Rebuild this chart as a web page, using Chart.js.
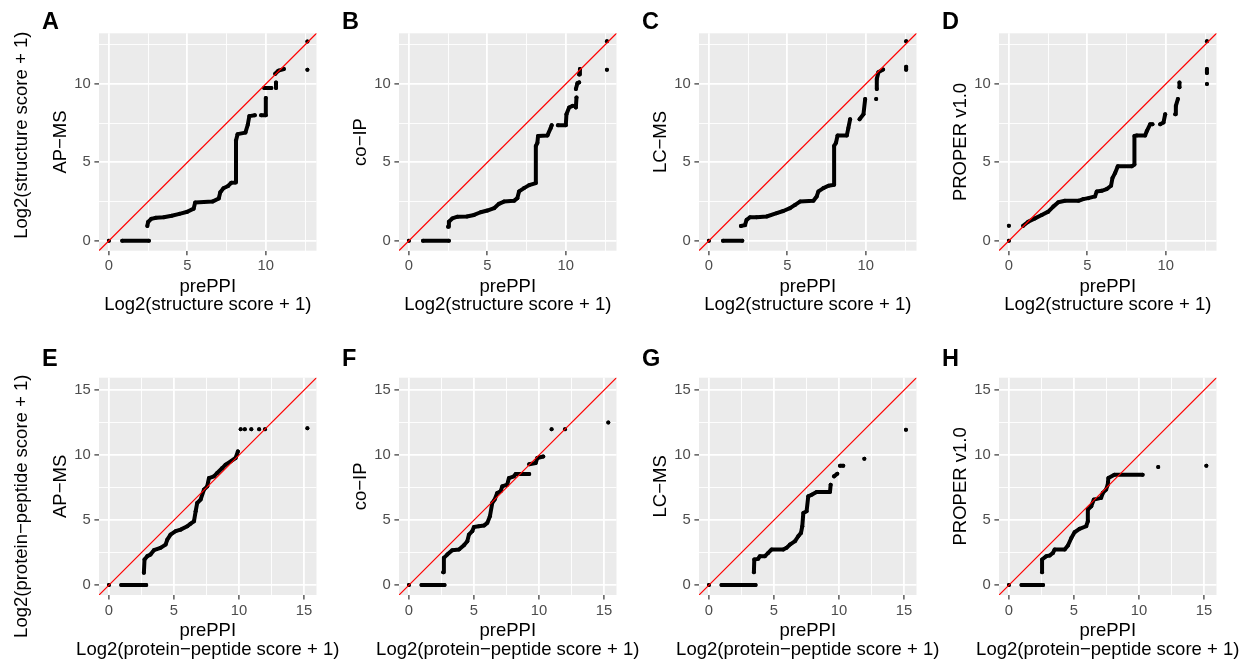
<!DOCTYPE html>
<html>
<head>
<meta charset="utf-8">
<script src="https://cdn.jsdelivr.net/npm/chart.js@4.4.1/dist/chart.umd.min.js"></script>
<style>
body { margin:0; background:#fff; width:1246px; height:664px; position:relative; overflow:hidden;
       font-family:"Liberation Sans", Arial, Helvetica, sans-serif; }
canvas { position:absolute; }
.tag { position:absolute; font-weight:bold; font-size:23.5px; line-height:23.5px; color:#000; }
.rowlab { position:absolute; width:320px; height:18.5px; font-size:18.5px; line-height:18.5px;
          white-space:nowrap; text-align:center; color:#000; transform:rotate(-90deg); }
</style>
</head>
<body>
<script>
// panel names and axis texts
var panelLetters = ['A', 'B', 'C', 'D', 'E', 'F', 'G', 'H'];
var methods = ['AP\u2212MS', 'co\u2212IP', 'LC\u2212MS', 'PROPER v1.0'];
var xTitle = 'prePPI';
var rowTitles = ['Log2(structure score + 1)', 'Log2(protein\u2212peptide score + 1)'];

// axis limits and grid/tick values per row
var limTop = [-0.63, 13.23];
var limBot = [-0.76, 15.96];
var gridTop = [0, 2.5, 5, 7.5, 10, 12.5];
var gridBot = [0, 2.5, 5, 7.5, 10, 12.5, 15];

// quantile pairs, null = gap between runs of points
var qqA = [[0,0], null, [0.85,0],[2.55,0], null,
  [2.45,0.95],[2.5,1.2],[2.7,1.4],[3.0,1.47],[3.5,1.5],[4.0,1.6],[4.5,1.72],[5.0,1.85],[5.4,2.05],[5.5,2.45],
  [6.6,2.5],[7.0,2.7],[7.1,3.1],[7.3,3.35],[7.6,3.5],[7.8,3.7],[8.05,3.72],[8.1,6.4],[8.2,6.8],[8.7,6.9],
  [8.85,7.4],[8.95,7.95],[9.3,8.0], null,
  [9.7,8.0],[10.0,8.0],[10.0,9.1], null, [9.9,9.75],[10.35,9.75], null, [10.65,9.75],[10.65,10.1], null,
  [10.6,10.65],[10.8,10.85],[11.15,10.95], null, [12.65,12.7], null, [12.65,10.9]];

var qqB = [[0,0], null, [0.9,0],[2.55,0], null,
  [2.5,0.9],[2.55,1.22],[2.77,1.43],[3.1,1.54],[3.7,1.55],[4.15,1.65],[4.57,1.82],[5.0,1.93],[5.43,2.08],
  [5.74,2.36],[6.06,2.5],[6.7,2.55],[6.91,2.72],[7.02,3.15],[7.34,3.36],[7.66,3.55],[8.09,3.68],[8.09,6.04],
  [8.19,6.25],[8.23,6.68],[8.83,6.72],[9.04,7.2],[9.1,7.37], null,
  [9.5,7.37],[10.0,7.37],[10.04,8.07],[10.21,8.5],[10.43,8.6], null, [10.64,8.5],[10.68,9.14], null,
  [10.64,9.68],[10.74,10.05],[10.85,10.1], null, [10.85,10.6],[10.9,10.96], null,
  [12.62,12.72], null, [12.62,10.9]];

var qqC = [[0,0], null, [0.9,0],[2.13,0], null,
  [2.04,0.95],[2.3,1.0],[2.4,1.33],[2.62,1.5],[3.04,1.5],[3.68,1.55],[4.32,1.76],[4.74,1.9],[5.17,2.08],
  [5.49,2.29],[5.81,2.5],[6.66,2.55],[6.87,2.83],[6.98,3.15],[7.3,3.36],[7.62,3.51],[7.98,3.58],[7.98,6.04],
  [8.1,6.25],[8.2,6.72],[8.79,6.72],[8.89,7.2],[9.0,7.75], null,
  [9.6,7.75],[9.85,8.07],[9.96,9.04], null, [10.66,9.04], null,
  [10.7,9.68],[10.7,10.32],[10.8,10.75],[11.1,10.92], null,
  [12.57,12.72], null, [12.57,10.9],[12.57,11.1]];

var qqD = [[0,0], null, [0,0.96], null,
  [0.91,0.96],[1.23,1.22],[1.66,1.43],[2.09,1.65],[2.51,1.86],[2.83,2.18],[3.15,2.46],[3.57,2.55],[4.43,2.55],
  [4.74,2.66],[5.06,2.72],[5.49,2.83],[5.6,3.15],[5.91,3.19],[6.23,3.3],[6.51,3.51],[6.6,4.0],[6.77,4.33],
  [6.94,4.75],[7.83,4.75],[8.0,4.86],[8.0,6.68],[8.15,6.72],[8.68,6.72],[8.79,7.0],[9.0,7.43],[9.15,7.43], null,
  [9.64,7.43],[9.85,7.54],[9.96,8.07], null, [10.6,8.07],[10.64,8.6],[10.77,9.04], null,
  [10.87,9.79],[10.87,10.1], null, [12.62,12.72], null, [12.62,10.7],[12.62,10.96], null, [12.62,10.0]];

var qqE = [[0,0], null, [0.95,0],[2.87,0], null,
  [2.69,0.95],[2.74,1.97],[2.95,2.23],[3.2,2.35],[3.46,2.69],[3.97,2.87],[4.36,3.12],[4.49,3.5],[4.74,3.89],
  [5.13,4.15],[5.51,4.27],[6.03,4.53],[6.28,4.73],[6.54,4.91],[6.67,5.68],[6.79,6.32],[7.05,6.58],[7.31,7.35],
  [7.56,7.6],[7.69,8.24],[8.08,8.37],[8.33,8.63],[8.72,9.01],[8.97,9.27],[9.36,9.52],[9.74,9.78],[9.92,10.29], null,
  [10.13,12.0], null, [10.45,12.0], null, [10.95,12.0], null, [11.55,12.0], null, [12.0,12.0], null, [15.26,12.08]];

var qqF = [[0,0], null, [0.97,0],[2.74,0], null,
  [2.64,1.0],[2.69,2.1],[2.95,2.35],[3.33,2.69],[3.85,2.74],[4.23,3.07],[4.49,3.38],[4.62,3.89],[4.87,4.15],
  [5.0,4.48],[5.38,4.53],[5.77,4.58],[6.03,4.79],[6.23,5.3],[6.41,6.32],[6.59,6.58],[6.79,7.09],[7.05,7.22],
  [7.18,7.6],[7.56,7.73],[7.69,8.24],[8.08,8.37],[8.21,8.55],[9.25,8.55], null,
  [9.25,9.3],[9.75,9.4],[9.87,9.78],[10.33,9.9], null,
  [10.97,12.0], null, [12.0,12.0], null, [15.33,12.52]];

var qqG = [[0,0], null, [0.97,0],[3.59,0], null,
  [3.46,1.0],[3.49,1.97],[3.79,2.02],[3.92,2.23],[4.31,2.23],[4.56,2.48],[4.82,2.74],[5.72,2.74],[5.97,2.87],
  [6.23,3.12],[6.62,3.38],[6.87,3.76],[7.08,4.02],[7.18,4.53],[7.26,5.55],[7.51,5.68],[7.64,6.83],[7.9,6.96],
  [8.28,7.17],[9.31,7.17],[9.36,7.73], null,
  [9.62,8.37],[9.87,8.57], null, [10.08,9.19],[10.33,9.19], null,
  [11.95,9.73], null, [15.15,11.95]];

var qqH = [[0,0], null, [0.97,0],[2.63,0], null,
  [2.55,1.0],[2.55,1.97],[2.88,2.23],[3.14,2.28],[3.39,2.48],[3.52,2.74],[4.29,2.74],[4.54,3.05],[4.8,3.63],
  [5.05,4.07],[5.43,4.33],[5.94,4.53],[6.07,4.91],[6.07,5.81],[6.33,6.07],[6.53,6.58],[7.09,6.71],[7.22,7.09],
  [7.47,7.35],[7.6,7.73],[7.65,8.24],[8.11,8.5],[10.28,8.5], null,
  [11.48,9.09], null, [15.18,9.19]];

var panels = [qqA, qqB, qqC, qqD, qqE, qqF, qqG, qqH];

Chart.defaults.font.family = '"Liberation Sans", Arial, Helvetica, sans-serif';

// layout of one figure cell (canvas) per row
var rows = [
  { top: 0,   padTop: 33.3, padBottom: 17.5 },
  { top: 332, padTop: 45.7, padBottom: 5.2 }
];
var CW = 340, CH = 332, PLOT_L = 99, PLOT_W = 217.5, XAXIS_H = 63.8;

// grey panel behind the grid
var panelBg = {
  id: 'panelBg',
  beforeDraw: function(chart) {
    var a = chart.chartArea, c = chart.ctx;
    c.save();
    c.fillStyle = '#EBEBEB';
    c.fillRect(a.left, a.top, a.right - a.left, a.bottom - a.top);
    c.restore();
  }
};

// two-line x title, drawn without the scale title width limit
var xTitles = {
  id: 'xTitles',
  afterDraw: function(chart, args, opts) {
    var a = chart.chartArea, c = chart.ctx;
    c.save();
    c.fillStyle = '#000';
    c.font = '18.5px "Liberation Sans", Arial, sans-serif';
    c.textAlign = 'center';
    c.textBaseline = 'middle';
    opts.lines.forEach(function(t, i) {
      c.fillText(t, (a.left + a.right) / 2, a.bottom + 36.2 + i * 18.4);
    });
    c.restore();
  }
};

function isMajor(ctx) {
  return ctx.tick && ctx.tick.value % 5 === 0;
}

function axis(dir, row, title) {
  var lim = row === 0 ? limTop : limBot;
  var vals = row === 0 ? gridTop : gridBot;
  var o = {
    type: 'linear',
    min: lim[0],
    max: lim[1],
    border: { display: false },
    grid: {
      color: '#FFFFFF',
      lineWidth: function(ctx) { return isMajor(ctx) ? 1.8 : 0.9; },
      tickColor: function(ctx) { return isMajor(ctx) ? '#333333' : 'rgba(0,0,0,0)'; },
      tickWidth: 1.2,
      tickLength: 4.6
    },
    ticks: {
      autoSkip: false,
      maxRotation: 0,
      padding: dir === 'x' ? 2 : 3.7,
      color: '#4D4D4D',
      font: { size: 14.8, lineHeight: 1.2 },
      callback: function(v) { return v % 5 === 0 ? String(v) : ''; }
    },
    afterBuildTicks: function(s) {
      s.ticks = vals.map(function(v) { return { value: v }; });
    },
    afterFit: function(s) {
      if (dir === 'x') s.height = XAXIS_H; else s.width = PLOT_L - 40;
      s.paddingLeft = 0; s.paddingRight = 0; s.paddingTop = 0; s.paddingBottom = 0;
    }
  };
  if (dir === 'y') {
    o.title = {
      display: true, text: title, color: '#000',
      font: { size: 18.5, lineHeight: 1.0 },
      padding: { top: 11.75, bottom: 0 }
    };
  }
  return o;
}

panels.forEach(function(qq, i) {
  var row = Math.floor(i / 4), col = i % 4;
  var g = rows[row];

  var cv = document.createElement('canvas');
  cv.width = CW; cv.height = CH;
  cv.style.left = (col * 300) + 'px';
  cv.style.top = g.top + 'px';
  document.body.appendChild(cv);

  var pts = qq.map(function(p) { return p ? { x: p[0], y: p[1] } : { x: null, y: null }; });
  var lim = row === 0 ? limTop : limBot;

  new Chart(cv, {
    type: 'scatter',
    data: {
      datasets: [
        {
          data: [{ x: lim[0] - 1, y: lim[0] - 1 }, { x: lim[1] + 1, y: lim[1] + 1 }],
          showLine: true, borderColor: '#FF0000', borderWidth: 1.2, pointRadius: 0, order: 0
        },
        {
          data: pts, showLine: true, spanGaps: false,
          borderColor: '#000', borderWidth: 4, borderCapStyle: 'round', borderJoinStyle: 'round',
          pointRadius: 2, pointBorderWidth: 0, pointBackgroundColor: '#000', order: 1
        }
      ]
    },
    options: {
      responsive: false,
      animation: false,
      events: [],
      layout: { padding: { left: 40, top: g.padTop, right: CW - PLOT_L - PLOT_W, bottom: g.padBottom } },
      plugins: {
        legend: { display: false },
        tooltip: { enabled: false },
        xTitles: { lines: [xTitle, rowTitles[row]] }
      },
      scales: {
        x: axis('x', row),
        y: axis('y', row, methods[col])
      }
    },
    plugins: [panelBg, xTitles]
  });

  var tag = document.createElement('div');
  tag.className = 'tag';
  tag.textContent = panelLetters[i];
  tag.style.left = (42 + col * 300) + 'px';
  tag.style.top = (row === 0 ? 10.2 : 347) + 'px';
  document.body.appendChild(tag);
});

// shared y titles at the left of each row
[135, 506].forEach(function(cy, r) {
  var d = document.createElement('div');
  d.className = 'rowlab';
  d.textContent = rowTitles[r];
  d.style.left = (21 - 160) + 'px';
  d.style.top = (cy - 9.25) + 'px';
  document.body.appendChild(d);
});
</script>
</body>
</html>
